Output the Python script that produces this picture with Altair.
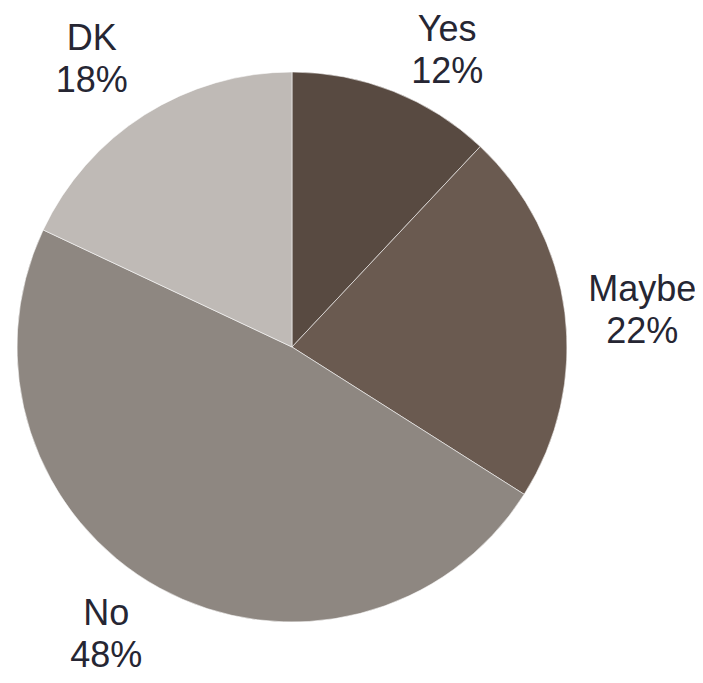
import altair as alt
import pandas as pd

categories = ["Yes", "Maybe", "No", "DK"]
percents = [12, 22, 48, 18]
colors = ["#584a41", "#6a5a50", "#8e8781", "#bfbab6"]

df = pd.DataFrame({
    "category": categories,
    "value": percents,
    "order": list(range(len(categories))),
})
df["label"] = df["category"] + "\n" + df["value"].astype(str) + "%"

CX, CY, R = 284, 339, 275

base = alt.Chart(df).encode(
    theta=alt.Theta("value:Q", stack=True),
    order=alt.Order("order:Q"),
)

pie = base.mark_arc(stroke="#ffffff", strokeWidth=0.8, strokeOpacity=0.7).encode(
    color=alt.Color("category:N", scale=alt.Scale(domain=categories, range=colors), legend=None),
    x=alt.value(CX), y=alt.value(CY), radius=alt.value(R),
)

offsets = {"Yes": (30, -1), "Maybe": (13, -14), "No": (-22, -31), "DK": (-18, -21)}
layers = [pie]
for cat in categories:
    dx, dy = offsets[cat]
    layers.append(
        base.mark_text(
            font="Liberation Sans", fontSize=36, color="#262633",
            lineBreak="\n", lineHeight=42, align="center", baseline="middle",
            dx=dx, dy=dy,
        ).encode(
            x=alt.value(CX), y=alt.value(CY), radius=alt.value(340),
            text=alt.condition(f"datum.category == '{cat}'", "label:N", alt.value("")),
        )
    )

chart = alt.layer(*layers).properties(
    width=687, height=667,
    autosize=alt.AutoSizeParams(type="none"),
    padding=0,
).configure_view(stroke=None)

chart.save("out.html", embed_options={"renderer": "svg", "actions": False})
